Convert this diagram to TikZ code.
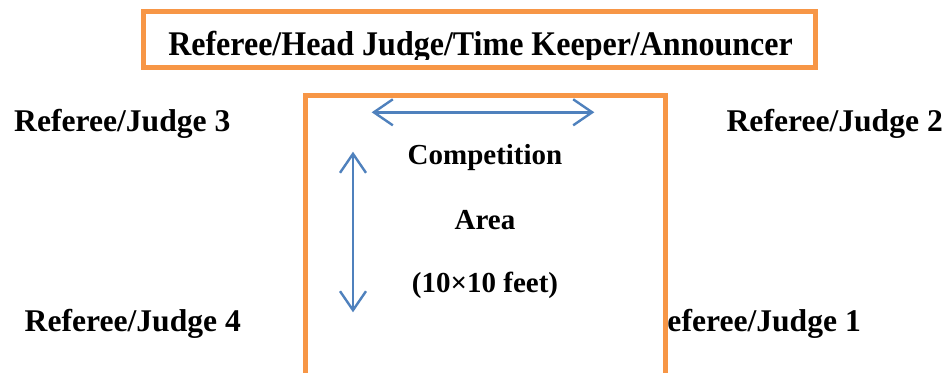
\documentclass[tikz,border=0pt]{standalone}
\usepackage{fontspec}
\setmainfont{Liberation Serif}
\usetikzlibrary{arrows.meta}
\definecolor{boxorange}{HTML}{F79646}
\definecolor{arrowblue}{HTML}{4F81BD}
\tikzset{
  label/.style={inner sep=0pt, font=\fontsize{31.6}{34}\selectfont\bfseries},
  areatext/.style={inner sep=0pt, font=\fontsize{29}{32}\selectfont\bfseries},
  frame/.style={draw=boxorange, line width=5pt},
  barb/.tip={Straight Barb[length=19pt,width=26pt,line width=2.4pt]},
  span/.style={draw=arrowblue, line width=2.4pt, barb-barb}
}
\begin{document}
\begin{tikzpicture}[x=1pt,y=-1pt]
  \useasboundingbox (0,0) rectangle (952,372);
  \clip (0,0) rectangle (952,372);

  % officials' table
  \node[frame, minimum width=671.5pt, minimum height=56.5pt, inner sep=0pt] (table) at (479.7,39.7) {};
  \begin{scope}
    \clip (146,14) rectangle (813,59.5);
    \node[label, anchor=base] (title) at (480.5,55)
      {\fontsize{32}{34}\selectfont\bfseries\scalebox{1}[1.08]{Referee/Head Judge/Time Keeper/Announcer}};
  \end{scope}

  % corner officials
  \node[label, anchor=base west] (j3) at (14,131.7) {Referee/Judge 3};
  \node[label, anchor=base east] (j2) at (943,131.7) {Referee/Judge 2};
  \node[label, anchor=base west] (j4) at (24.5,331.7) {Referee/Judge 4};
  \node[label, anchor=base east] (j1) at (861,331.7) {Referee/Judge 1};

  % competition area (runs past the lower edge)
  \draw[frame, fill=white] (305.5,95.5) rectangle (665,420);

  % dimension arrows
  \coordinate (hl) at (371.7,112.3);
  \coordinate (hr) at (594.3,112.3);
  \coordinate (vt) at (353,151.7);
  \coordinate (vb) at (353,312.3);
  \draw[span] (hl) -- (hr);
  \draw[span] (vt) -- (vb);

  % area caption
  \node[areatext, anchor=base] (c1) at (485,164) {Competition};
  \node[areatext, anchor=base] (c2) at (485,229) {Area};
  \node[areatext, anchor=base] (c3) at (485,292) {(10×10 feet)};
\end{tikzpicture}
\end{document}
